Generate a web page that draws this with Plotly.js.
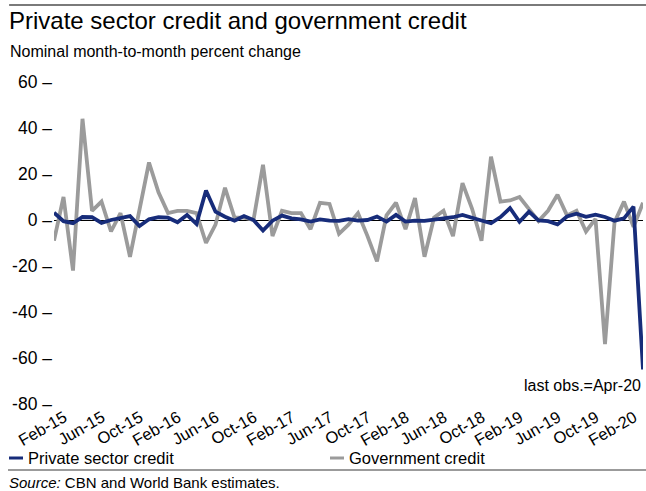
<!DOCTYPE html>
<html>
<head>
<meta charset="utf-8">
<script src="https://cdn.plot.ly/plotly-3.0.1.min.js"></script>
<style>html,body{margin:0;padding:0;background:#fff;}#chart{width:646px;height:491px;}</style>
</head>
<body>
<div id="chart"></div>
<script>
var months = ["Feb-15","Mar-15","Apr-15","May-15","Jun-15","Jul-15","Aug-15","Sep-15","Oct-15","Nov-15","Dec-15",
"Jan-16","Feb-16","Mar-16","Apr-16","May-16","Jun-16","Jul-16","Aug-16","Sep-16","Oct-16","Nov-16","Dec-16",
"Jan-17","Feb-17","Mar-17","Apr-17","May-17","Jun-17","Jul-17","Aug-17","Sep-17","Oct-17","Nov-17","Dec-17",
"Jan-18","Feb-18","Mar-18","Apr-18","May-18","Jun-18","Jul-18","Aug-18","Sep-18","Oct-18","Nov-18","Dec-18",
"Jan-19","Feb-19","Mar-19","Apr-19","May-19","Jun-19","Jul-19","Aug-19","Sep-19","Oct-19","Nov-19","Dec-19",
"Jan-20","Feb-20","Mar-20","Apr-20"];

var privateCredit = [3.2,-0.5,-1.4,1.3,1.2,-1.3,0,0.7,1.7,-2.6,0.3,
1.2,1,-1,2.2,-1.7,12.8,3.6,1.4,-0.3,1.7,0,-4.6,
-0.3,1.9,0.7,0.3,-0.7,0.3,-0.3,-0.4,0.4,-0.3,0,1.5,
-0.7,2.2,-0.7,-0.3,-0.4,0.3,0.7,1.2,2.2,1,-0.3,-1.4,
1.3,5.2,-0.8,3.6,-0.2,-0.5,-1.9,1.5,2.7,1.4,2.3,1.3,
-0.3,0.7,5.8,-65];

var governmentCredit = [-9,10,-22,44,4,8,-5,3,-16,5,25,
12,3,4,4,3,-10,-2,14,1,1,0,24,
-7,4,3,3,-4,7.5,7,-6,-2,3,-7,-18,
2,7.5,-4,9.5,-16,1,4,-7,16,5,-9,27.5,
8,8.5,10,4.5,-0.5,4,11,2,4,-5,0.5,-54,
-1,8,-3,7.5];

var tickLabels = ["Feb-15","Jun-15","Oct-15","Feb-16","Jun-16","Oct-16","Feb-17","Jun-17","Oct-17",
"Feb-18","Jun-18","Oct-18","Feb-19","Jun-19","Oct-19","Feb-20"];
var yTicks = [60,40,20,0,-20,-40,-60,-80];

var seriesNames = ["Private sector credit","Government credit"];
var seriesColors = ["#172c7a","#9b9b9b"];

var FONT = "Liberation Sans, Arial, sans-serif";

var traces = [
  {x: months, y: governmentCredit, type: "scatter", mode: "lines", name: seriesNames[1],
   line: {color: seriesColors[1], width: 3.8}, showlegend: false},
  {x: months, y: privateCredit, type: "scatter", mode: "lines", name: seriesNames[0],
   line: {color: seriesColors[0], width: 3.8}, showlegend: false}
];

var layout = {
  width: 646, height: 491,
  margin: {l: 54, r: 3, t: 82, b: 87},
  paper_bgcolor: "#fff", plot_bgcolor: "#fff",
  font: {family: FONT, color: "#000", size: 16},
  title: {text: "Private sector credit and government credit", x: 9/646, xanchor: "left",
          y: 1 - 21/491, yanchor: "middle", xref: "container", yref: "container",
          font: {family: FONT, size: 24, color: "#000"}},
  xaxis: {type: "category", range: [0, months.length - 1], tickmode: "array", tickvals: tickLabels, ticktext: tickLabels,
          tickangle: -30, showgrid: false, zeroline: false, showline: false, ticks: "",
          ticklabelshift: 10, ticklabelstandoff: 0,
          tickfont: {family: FONT, size: 16.5, color: "#000"}, automargin: false},
  yaxis: {range: [-80, 60], tickmode: "array", tickvals: yTicks, ticktext: yTicks.map(function(v){return v + " \u2013";}),
          showgrid: false, zeroline: true, zerolinecolor: "#000", zerolinewidth: 1, showline: false, ticks: "",
          ticklabelstandoff: 1,
          tickfont: {family: FONT, size: 17.5, color: "#000"}, automargin: false},
  shapes: [
    {type: "line", xref: "paper", yref: "paper", x0: 10/646 - 54/589, x1: 1 + 3/589, y0: 1 + (82-5)/322, y1: 1 + (82-5)/322,
     line: {color: "#7a7a7a", width: 2}},
    {type: "line", xref: "paper", yref: "paper", x0: -46/589, x1: 1 + 3/589, y0: -(470-404)/322, y1: -(470-404)/322,
     line: {color: "#7a7a7a", width: 1.5}},
    {type: "line", xref: "paper", yref: "paper", x0: (9-54)/589, x1: (23-54)/589, y0: -(458-404)/322, y1: -(458-404)/322,
     line: {color: seriesColors[0], width: 3}},
    {type: "line", xref: "paper", yref: "paper", x0: (330-54)/589, x1: (344-54)/589, y0: -(458-404)/322, y1: -(458-404)/322,
     line: {color: seriesColors[1], width: 3}}
  ],
  annotations: [
    {text: "Nominal month-to-month percent change", xref: "paper", yref: "paper", x: (8-54)/589, xanchor: "left",
     y: 1 + (82-52)/322, yanchor: "middle", showarrow: false, font: {family: FONT, size: 16, color: "#000"}},
    {text: "last obs.=Apr-20", xref: "paper", yref: "y", x: 1, xanchor: "right", y: -72, yanchor: "middle",
     showarrow: false, font: {family: FONT, size: 16, color: "#000"}},
    {text: seriesNames[0], xref: "paper", yref: "paper", x: (26-54)/589, xanchor: "left", y: -(458-404)/322, yanchor: "middle",
     showarrow: false, font: {family: FONT, size: 16.5, color: "#000"}},
    {text: seriesNames[1], xref: "paper", yref: "paper", x: (347-54)/589, xanchor: "left", y: -(458-404)/322, yanchor: "middle",
     showarrow: false, font: {family: FONT, size: 16.5, color: "#000"}},
    {text: "<i>Source:</i> CBN and World Bank estimates.", xref: "paper", yref: "paper", x: (7-54)/589, xanchor: "left",
     y: -(482-404)/322, yanchor: "middle", showarrow: false, font: {family: FONT, size: 15, color: "#000"}}
  ]
};

Plotly.newPlot("chart", traces, layout, {displayModeBar: false, staticPlot: true});
</script>
</body>
</html>
